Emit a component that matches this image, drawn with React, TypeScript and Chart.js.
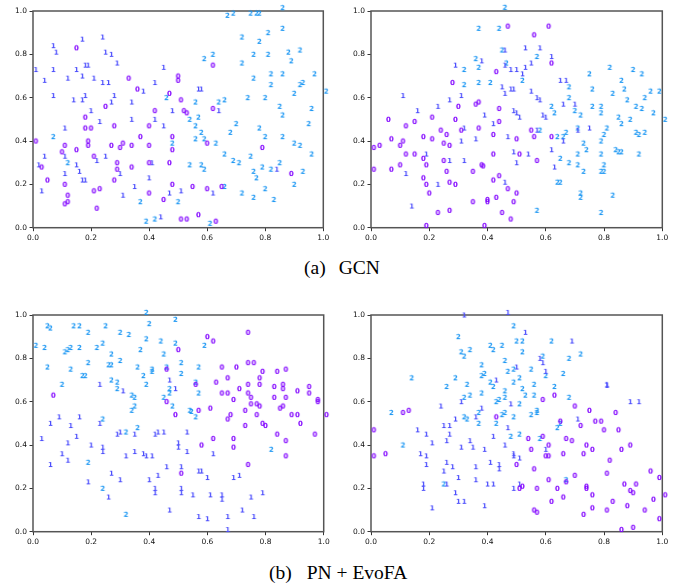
import React, { useEffect, useRef } from "react";
import { Chart, registerables } from "chart.js";

Chart.register(...registerables);

type P = [number, number];

// ---- (a) GCN, left panel ----
const gcnL0: P[] = [[0.15,0.83],[0.33,0.69],[0.50,0.70],[0.50,0.68],[0.36,0.64],[0.25,0.56],[0.47,0.62],[0.42,0.54],[0.18,0.51],[0.18,0.46],[0.20,0.46],[0.28,0.47],[0.40,0.47],[0.01,0.40],[0.11,0.38],[0.15,0.36],[0.19,0.40],[0.19,0.38],[0.27,0.38],[0.31,0.39],[0.30,0.37],[0.34,0.38],[0.37,0.42],[0.40,0.38],[0.48,0.42],[0.48,0.36],[0.10,0.35],[0.21,0.33],[0.03,0.28],[0.29,0.30],[0.40,0.30],[0.47,0.30],[0.29,0.27],[0.34,0.28],[0.05,0.22],[0.28,0.22],[0.11,0.20],[0.48,0.20],[0.21,0.17],[0.23,0.18],[0.40,0.16],[0.12,0.15],[0.12,0.12],[0.11,0.11],[0.45,0.13],[0.22,0.09],[0.62,0.75],[0.51,0.59],[0.62,0.55],[0.52,0.54],[0.53,0.53],[0.60,0.39],[0.79,0.37],[0.89,0.25],[0.55,0.19],[0.60,0.18],[0.65,0.19],[0.57,0.06],[0.51,0.04],[0.53,0.04],[0.63,0.03]];
const gcnL1: P[] = [[0.17,0.87],[0.24,0.88],[0.07,0.84],[0.08,0.81],[0.25,0.81],[0.27,0.80],[0.01,0.73],[0.07,0.73],[0.15,0.73],[0.17,0.70],[0.18,0.75],[0.19,0.75],[0.29,0.76],[0.04,0.68],[0.12,0.69],[0.21,0.69],[0.24,0.67],[0.26,0.67],[0.42,0.67],[0.45,0.74],[0.38,0.63],[0.07,0.61],[0.18,0.61],[0.14,0.59],[0.17,0.59],[0.28,0.61],[0.27,0.58],[0.34,0.58],[0.48,0.54],[0.20,0.54],[0.23,0.49],[0.34,0.50],[0.11,0.46],[0.45,0.47],[0.42,0.50],[0.11,0.33],[0.04,0.33],[0.22,0.31],[0.25,0.33],[0.02,0.29],[0.41,0.30],[0.15,0.29],[0.30,0.25],[0.11,0.25],[0.16,0.26],[0.17,0.22],[0.18,0.22],[0.40,0.23],[0.03,0.17],[0.35,0.19],[0.31,0.15],[0.47,0.16],[0.44,0.05],[0.57,0.64],[0.58,0.64],[0.64,0.54],[0.84,0.27],[0.51,0.17],[0.62,0.16]];
const gcnL2: P[] = [[0.46,0.60],[0.07,0.42],[0.48,0.39],[0.12,0.30],[0.37,0.12],[0.50,0.12],[0.39,0.03],[0.42,0.04],[0.67,0.98],[0.69,0.99],[0.75,0.99],[0.77,0.99],[0.78,0.99],[0.86,1.015],[0.72,0.88],[0.81,0.90],[0.86,0.92],[0.78,0.86],[0.59,0.78],[0.62,0.80],[0.72,0.76],[0.76,0.80],[0.81,0.80],[0.88,0.81],[0.89,0.77],[0.92,0.82],[0.76,0.69],[0.82,0.71],[0.86,0.71],[0.82,0.66],[0.92,0.66],[0.93,0.67],[0.97,0.71],[1.01,0.63],[0.56,0.58],[0.64,0.58],[0.66,0.59],[0.74,0.60],[0.80,0.60],[0.90,0.62],[0.85,0.56],[0.86,0.52],[0.96,0.55],[0.54,0.50],[0.57,0.51],[0.56,0.47],[0.70,0.48],[0.58,0.44],[0.68,0.44],[0.78,0.46],[0.80,0.42],[0.86,0.42],[0.95,0.48],[0.56,0.41],[0.59,0.41],[0.63,0.39],[0.90,0.39],[0.92,0.38],[0.66,0.34],[0.75,0.33],[0.96,0.34],[0.69,0.31],[0.71,0.30],[0.54,0.29],[0.58,0.29],[0.59,0.27],[0.76,0.26],[0.77,0.23],[0.79,0.28],[0.82,0.27],[0.85,0.30],[0.93,0.26],[0.90,0.20],[0.66,0.19],[0.72,0.16],[0.80,0.18],[0.76,0.14],[0.83,0.13],[0.61,0.02]];

// ---- (a) GCN, right panel ----
const gcnR0: P[] = [[0.43,0.72],[0.28,0.67],[0.30,0.56],[0.36,0.57],[0.37,0.58],[0.44,0.55],[0.06,0.50],[0.12,0.47],[0.15,0.49],[0.21,0.51],[0.29,0.50],[0.24,0.45],[0.31,0.45],[0.37,0.46],[0.44,0.49],[0.07,0.41],[0.18,0.42],[0.21,0.41],[0.26,0.43],[0.42,0.43],[0.01,0.37],[0.03,0.38],[0.10,0.38],[0.11,0.40],[0.25,0.39],[0.27,0.38],[0.12,0.34],[0.15,0.34],[0.18,0.32],[0.19,0.29],[0.42,0.34],[0.01,0.27],[0.07,0.27],[0.10,0.29],[0.25,0.31],[0.26,0.26],[0.35,0.26],[0.38,0.29],[0.385,0.285],[0.18,0.23],[0.19,0.20],[0.20,0.16],[0.27,0.21],[0.29,0.20],[0.42,0.22],[0.44,0.24],[0.35,0.12],[0.40,0.12],[0.40,0.13],[0.43,0.14],[0.23,0.07],[0.27,0.08],[0.45,0.07],[0.19,0.01],[0.39,0.01],[0.47,0.93],[0.61,0.93],[0.56,0.89],[0.62,0.76],[0.55,0.45],[0.56,0.42],[0.50,0.41],[0.62,0.42],[0.51,0.34],[0.57,0.31],[0.47,0.18],[0.50,0.16],[0.49,0.12],[0.48,0.04]];
const gcnR1: P[] = [[0.38,0.77],[0.29,0.75],[0.11,0.61],[0.27,0.59],[0.31,0.61],[0.23,0.56],[0.16,0.54],[0.39,0.52],[0.32,0.46],[0.42,0.48],[0.31,0.40],[0.36,0.41],[0.19,0.34],[0.27,0.31],[0.32,0.31],[0.12,0.25],[0.23,0.20],[0.14,0.10],[0.46,0.82],[0.53,0.83],[0.58,0.83],[0.62,0.79],[0.55,0.76],[0.46,0.75],[0.48,0.73],[0.50,0.73],[0.53,0.74],[0.52,0.71],[0.65,0.68],[0.67,0.68],[0.45,0.65],[0.46,0.62],[0.48,0.64],[0.49,0.64],[0.55,0.63],[0.57,0.60],[0.58,0.59],[0.66,0.57],[0.70,0.57],[0.49,0.54],[0.50,0.53],[0.51,0.51],[0.59,0.52],[0.60,0.51],[0.57,0.45],[0.47,0.42],[0.66,0.40],[0.71,0.45],[0.75,0.46],[0.49,0.35],[0.54,0.34],[0.50,0.30],[0.62,0.36],[0.63,0.28],[0.46,0.21]];
const gcnR2: P[] = [[0.37,0.92],[0.44,0.92],[0.36,0.78],[0.32,0.73],[0.37,0.74],[0.37,0.67],[0.41,0.67],[0.32,0.66],[0.46,1.017],[0.45,0.82],[0.57,0.79],[0.465,0.76],[0.52,0.68],[0.75,0.71],[0.82,0.74],[0.90,0.73],[0.93,0.71],[0.68,0.65],[0.76,0.64],[0.83,0.62],[0.86,0.68],[0.87,0.64],[0.88,0.59],[0.94,0.60],[0.96,0.63],[0.99,0.63],[0.91,0.56],[0.93,0.55],[0.97,0.53],[1.01,0.50],[0.68,0.60],[0.62,0.56],[0.63,0.53],[0.70,0.54],[0.72,0.52],[0.76,0.56],[0.79,0.56],[0.79,0.53],[0.85,0.51],[0.86,0.48],[0.89,0.50],[0.58,0.45],[0.64,0.42],[0.66,0.42],[0.67,0.44],[0.71,0.46],[0.81,0.46],[0.80,0.43],[0.91,0.44],[0.92,0.43],[0.94,0.44],[0.73,0.39],[0.79,0.40],[0.74,0.36],[0.84,0.36],[0.85,0.35],[0.86,0.35],[0.71,0.34],[0.79,0.34],[0.92,0.34],[0.65,0.32],[0.68,0.30],[0.71,0.29],[0.73,0.26],[0.80,0.29],[0.80,0.26],[0.79,0.26],[0.64,0.21],[0.65,0.21],[0.72,0.16],[0.72,0.14],[0.83,0.15],[0.57,0.08],[0.79,0.07]];

// ---- (b) PN + EvoFA, left panel ----
const pnL0: P[] = [[0.46,0.75],[0.07,0.63],[0.46,0.60],[0.74,0.92],[0.60,0.90],[0.62,0.88],[0.50,0.84],[0.65,0.76],[0.70,0.76],[0.74,0.78],[0.76,0.78],[0.79,0.74],[0.84,0.74],[0.87,0.75],[0.63,0.69],[0.67,0.71],[0.78,0.71],[0.56,0.68],[0.74,0.68],[0.78,0.68],[0.71,0.66],[0.83,0.67],[0.86,0.68],[0.86,0.66],[0.91,0.65],[0.95,0.67],[0.95,0.64],[0.65,0.64],[0.67,0.64],[0.69,0.61],[0.74,0.64],[0.75,0.62],[0.75,0.59],[0.83,0.62],[0.87,0.62],[0.77,0.59],[0.78,0.58],[0.85,0.57],[0.86,0.58],[0.98,0.61],[0.98,0.60],[0.57,0.56],[0.49,0.54],[0.61,0.57],[0.73,0.56],[0.67,0.52],[0.68,0.54],[0.77,0.54],[0.73,0.49],[0.79,0.50],[0.80,0.49],[0.89,0.54],[0.91,0.54],[0.92,0.50],[1.01,0.54],[0.58,0.40],[0.62,0.43],[0.69,0.43],[0.69,0.39],[0.84,0.45],[0.87,0.42],[0.97,0.45],[0.87,0.35],[0.51,0.27],[0.74,0.31]];
const pnL1: P[] = [[0.23,0.68],[0.47,0.70],[0.31,0.65],[0.09,0.53],[0.16,0.53],[0.06,0.50],[0.13,0.49],[0.23,0.50],[0.03,0.43],[0.15,0.44],[0.29,0.45],[0.30,0.46],[0.35,0.45],[0.43,0.46],[0.42,0.45],[0.45,0.46],[0.12,0.41],[0.20,0.40],[0.24,0.39],[0.24,0.37],[0.35,0.37],[0.38,0.36],[0.39,0.35],[0.41,0.35],[0.32,0.35],[0.10,0.36],[0.12,0.33],[0.06,0.31],[0.46,0.30],[0.27,0.27],[0.30,0.24],[0.19,0.23],[0.40,0.24],[0.43,0.26],[0.26,0.16],[0.42,0.20],[0.42,0.18],[0.49,0.66],[0.53,0.46],[0.50,0.41],[0.50,0.39],[0.53,0.37],[0.62,0.36],[0.51,0.30],[0.57,0.28],[0.58,0.28],[0.60,0.25],[0.69,0.25],[0.71,0.26],[0.51,0.20],[0.51,0.18],[0.55,0.17],[0.61,0.17],[0.65,0.17],[0.65,0.15],[0.75,0.16],[0.79,0.18],[0.47,0.10],[0.57,0.07],[0.60,0.06],[0.67,0.07],[0.72,0.10],[0.76,0.07],[0.67,0.01]];
const pnL2: P[] = [[0.39,1.012],[0.05,0.95],[0.06,0.94],[0.14,0.95],[0.16,0.95],[0.25,0.95],[0.40,0.96],[0.19,0.92],[0.30,0.92],[0.33,0.91],[0.39,0.89],[0.44,0.88],[0.01,0.86],[0.04,0.85],[0.11,0.83],[0.12,0.84],[0.13,0.85],[0.16,0.85],[0.22,0.85],[0.24,0.87],[0.27,0.82],[0.30,0.79],[0.37,0.84],[0.45,0.82],[0.05,0.76],[0.13,0.75],[0.19,0.78],[0.26,0.77],[0.27,0.77],[0.36,0.76],[0.46,0.76],[0.17,0.72],[0.18,0.72],[0.38,0.72],[0.41,0.75],[0.41,0.74],[0.10,0.68],[0.27,0.70],[0.29,0.69],[0.29,0.66],[0.39,0.68],[0.34,0.63],[0.35,0.62],[0.45,0.62],[0.35,0.58],[0.34,0.56],[0.24,0.52],[0.32,0.46],[0.36,0.48],[0.19,0.32],[0.24,0.20],[0.32,0.08],[0.49,0.98],[0.49,0.87],[0.59,0.86],[0.51,0.78],[0.51,0.73],[0.57,0.76],[0.56,0.69],[0.57,0.64],[0.47,0.66],[0.47,0.64],[0.48,0.58],[0.54,0.56],[0.545,0.555],[0.56,0.53],[0.82,0.38]];

// ---- (b) PN + EvoFA, right panel ----
const pnR0: P[] = [[0.43,0.53],[0.11,0.55],[0.13,0.56],[0.01,0.47],[0.01,0.35],[0.05,0.36],[0.63,0.63],[0.59,0.61],[0.70,0.58],[0.75,0.56],[0.84,0.55],[0.65,0.51],[0.72,0.49],[0.77,0.51],[0.79,0.51],[0.80,0.47],[0.85,0.47],[0.54,0.43],[0.59,0.44],[0.67,0.43],[0.69,0.42],[0.55,0.38],[0.61,0.40],[0.60,0.35],[0.61,0.35],[0.66,0.36],[0.74,0.40],[0.76,0.38],[0.73,0.36],[0.86,0.38],[0.89,0.40],[0.50,0.31],[0.56,0.29],[0.82,0.33],[0.81,0.27],[0.96,0.28],[0.99,0.25],[0.70,0.26],[0.61,0.24],[0.67,0.23],[0.64,0.20],[0.51,0.20],[0.52,0.21],[0.57,0.20],[0.74,0.21],[0.74,0.20],[0.76,0.17],[0.66,0.16],[0.62,0.14],[0.56,0.10],[0.57,0.09],[0.73,0.08],[0.76,0.11],[0.81,0.10],[0.83,0.14],[0.88,0.12],[0.94,0.10],[0.87,0.22],[0.91,0.22],[0.89,0.19],[0.90,0.18],[0.97,0.15],[1.01,0.17],[0.99,0.06],[0.86,0.01],[0.90,0.02]];
const pnR1: P[] = [[0.32,1.00],[0.43,0.70],[0.31,0.60],[0.24,0.58],[0.29,0.52],[0.36,0.53],[0.38,0.57],[0.25,0.49],[0.27,0.49],[0.16,0.47],[0.19,0.45],[0.27,0.45],[0.26,0.42],[0.42,0.44],[0.21,0.41],[0.31,0.39],[0.34,0.42],[0.35,0.39],[0.39,0.38],[0.17,0.36],[0.19,0.35],[0.19,0.31],[0.26,0.32],[0.28,0.30],[0.36,0.30],[0.41,0.32],[0.44,0.31],[0.44,0.29],[0.25,0.28],[0.30,0.25],[0.36,0.24],[0.40,0.22],[0.42,0.22],[0.18,0.22],[0.18,0.20],[0.26,0.22],[0.29,0.18],[0.30,0.14],[0.32,0.14],[0.39,0.12],[0.21,0.11],[0.47,1.012],[0.53,0.92],[0.69,0.88],[0.58,0.80],[0.59,0.78],[0.50,0.76],[0.60,0.74],[0.81,0.68],[0.81,0.675],[0.89,0.60],[0.92,0.60],[0.48,0.59],[0.71,0.52],[0.47,0.48],[0.46,0.40],[0.60,0.38],[0.49,0.36],[0.49,0.35],[0.51,0.34],[0.49,0.20],[0.51,0.22]];
const pnR2: P[] = [[0.30,0.90],[0.31,0.83],[0.32,0.81],[0.34,0.84],[0.41,0.86],[0.42,0.84],[0.38,0.77],[0.39,0.73],[0.38,0.72],[0.14,0.71],[0.29,0.71],[0.41,0.69],[0.42,0.67],[0.26,0.67],[0.33,0.68],[0.32,0.62],[0.34,0.63],[0.38,0.64],[0.43,0.60],[0.44,0.61],[0.32,0.53],[0.33,0.52],[0.37,0.55],[0.37,0.50],[0.43,0.50],[0.25,0.22],[0.07,0.55],[0.11,0.40],[0.49,0.95],[0.50,0.88],[0.52,0.88],[0.62,0.88],[0.45,0.86],[0.52,0.83],[0.59,0.81],[0.68,0.80],[0.72,0.82],[0.46,0.79],[0.47,0.74],[0.49,0.75],[0.55,0.75],[0.60,0.72],[0.66,0.73],[0.49,0.69],[0.51,0.71],[0.56,0.68],[0.63,0.67],[0.46,0.65],[0.46,0.62],[0.52,0.66],[0.53,0.63],[0.56,0.63],[0.68,0.62],[0.45,0.54],[0.46,0.55],[0.51,0.59],[0.49,0.53],[0.55,0.54],[0.57,0.56],[0.57,0.55],[0.65,0.50],[0.64,0.48],[0.48,0.44],[0.51,0.45],[0.58,0.43],[0.67,0.24]];

const classLabels = ["0", "1", "2"];
const classColors = ["#8000ff", "#4d4ffc", "#1a96f3"];
const tickValues = [0, 0.2, 0.4, 0.6, 0.8, 1.0];
const captionA = ["(a)", "GCN"];
const captionB = ["(b)", "PN + EvoFA"];

function makeMarker(label: string, color: string): HTMLCanvasElement {
  const c = document.createElement("canvas");
  c.width = 9;
  c.height = 9;
  const ctx = c.getContext("2d")!;
  ctx.font = 'bold 7px "DejaVu Sans"';
  ctx.fillStyle = color;
  ctx.textAlign = "center";
  ctx.textBaseline = "alphabetic";
  ctx.fillText(label, 4.5, 4.5 + 2.55);
  return c;
}

const framePlugin = {
  id: "frameBox",
  beforeDatasetsDraw(chart: any) {
    const { ctx, chartArea } = chart;
    ctx.save();
    ctx.strokeStyle = "#555";
    ctx.lineWidth = 1.5;
    ctx.strokeRect(chartArea.left, chartArea.top, chartArea.right - chartArea.left, chartArea.bottom - chartArea.top);
    ctx.restore();
  },
};

type PanelProps = {
  series: P[][];
  left: number;
  top: number;
  width: number;
  height: number;
  pad: { left: number; right: number; top: number; bottom: number };
};

function Panel({ series, left, top, width, height, pad }: PanelProps) {
  const ref = useRef<HTMLCanvasElement | null>(null);
  useEffect(() => {
    if (!ref.current) return;
    const markers = classLabels.map((l, i) => makeMarker(l, classColors[i]));
    const axisCommon = {
      type: "linear" as const,
      min: 0,
      max: 1,
      afterBuildTicks: (s: any) => {
        s.ticks = tickValues.map((v) => ({ value: v }));
      },
      grid: {
        drawOnChartArea: false,
        drawTicks: true,
        tickLength: 3.5,
        color: "#000",
        lineWidth: 0.8,
      },
      border: { display: false },
    };
    const chart = new Chart(ref.current, {
      type: "scatter",
      data: {
        datasets: series.map((pts, i) => ({
          label: classLabels[i],
          data: pts.map(([x, y]) => ({ x, y })),
          pointStyle: markers[i] as any,
          pointRadius: 4,
          clip: false as any,
        })),
      },
      options: {
        responsive: false,
        animation: false,
        events: [],
        layout: { padding: pad },
        plugins: { legend: { display: false }, tooltip: { enabled: false } },
        scales: {
          x: {
            ...axisCommon,
            afterFit: (s: any) => {
              s.height = 16;
            },
            ticks: {
              padding: 2,
              color: "#111",
              font: { family: "DejaVu Sans", size: 7.5 },
              callback: (v: any) => Number(v).toFixed(1),
            },
          },
          y: {
            ...axisCommon,
            afterFit: (s: any) => {
              s.width = 28;
            },
            ticks: {
              padding: 2.5,
              color: "#111",
              font: { family: "DejaVu Sans", size: 7.5 },
              callback: (v: any) => Number(v).toFixed(1),
            },
          },
        },
      },
      plugins: [framePlugin],
    });
    return () => chart.destroy();
  }, []);
  return (
    <canvas
      ref={ref}
      width={width}
      height={height}
      style={{ position: "absolute", left, top, width, height }}
    />
  );
}

const captionStyle: React.CSSProperties = {
  position: "absolute",
  fontFamily: '"Liberation Serif", "Times New Roman", serif',
  fontSize: "19.5px",
  lineHeight: "19.5px",
  whiteSpace: "pre",
  color: "#000",
};

export default function App() {
  return (
    <div
      style={{
        position: "fixed",
        left: 0,
        top: 0,
        width: 676,
        height: 584,
        background: "#fff",
        overflow: "hidden",
      }}
    >
      <Panel series={[gcnL0, gcnL1, gcnL2]} left={0} top={0} width={340} height={250}
        pad={{ left: 5, right: 16.7, top: 11, bottom: 6.3 }} />
      <Panel series={[gcnR0, gcnR1, gcnR2]} left={340} top={0} width={336} height={250}
        pad={{ left: 3, right: 13.7, top: 11, bottom: 6.3 }} />
      <Panel series={[pnL0, pnL1, pnL2]} left={0} top={300} width={340} height={250}
        pad={{ left: 5, right: 16.3, top: 15, bottom: 2.3 }} />
      <Panel series={[pnR0, pnR1, pnR2]} left={340} top={300} width={336} height={250}
        pad={{ left: 3, right: 13.7, top: 15, bottom: 2.3 }} />
      <div style={{ ...captionStyle, left: 304, top: 258 }}>
        <span>{captionA[0]}</span>
        <span style={{ marginLeft: 13 }}>{captionA[1]}</span>
      </div>
      <div style={{ ...captionStyle, left: 269, top: 562.5 }}>
        <span>{captionB[0]}</span>
        <span style={{ marginLeft: 15 }}>{captionB[1]}</span>
      </div>
    </div>
  );
}
